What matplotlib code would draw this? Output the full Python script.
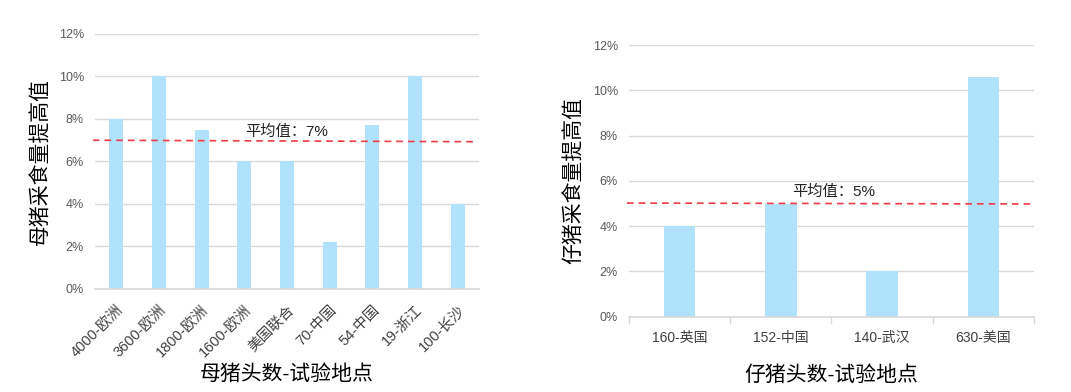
import matplotlib
matplotlib.use("Agg")
import matplotlib.pyplot as plt
from matplotlib.ticker import FuncFormatter

plt.rcParams['font.family'] = ['Liberation Sans', 'Noto Sans CJK SC', 'DejaVu Sans']

sow_labels = ["4000-欧洲", "3600-欧洲", "1800-欧洲", "1600-欧洲", "美国联合",
              "70-中国", "54-中国", "19-浙江", "100-长沙"]
sow_values = [8, 10, 7.5, 6, 6, 2.2, 7.7, 10, 4]
sow_mean = 7

piglet_labels = ["160-英国", "152-中国", "140-武汉", "630-美国"]
piglet_values = [4, 5, 2, 10.6]
piglet_mean = 5

bar_color = '#B1E2FB'
grid_color = '#D9D9D9'
tick_color = '#595959'
mean_color = '#EE3B45'

fig = plt.figure(figsize=(10.71, 3.92), dpi=100)
ax1 = fig.add_axes([0.0887, 0.2628, 0.3585, 0.6505])
ax2 = fig.add_axes([0.5873, 0.1921, 0.378, 0.693])

pct = FuncFormatter(lambda v, p: f"{v:.0f}%")

def style(ax, n):
    ax.set_ylim(0, 12)
    ax.set_yticks(range(0, 13, 2))
    ax.yaxis.set_major_formatter(pct)
    ax.set_xlim(-0.5, n - 0.5)
    ax.grid(axis='y', color=grid_color, linewidth=1)
    ax.set_axisbelow(True)
    for s in ['top', 'right', 'left']:
        ax.spines[s].set_visible(False)
    ax.spines['bottom'].set_color(grid_color)
    ax.spines['bottom'].set_linewidth(1.2)
    ax.tick_params(axis='y', length=0, labelsize=9, labelcolor=tick_color, pad=8)

# Left chart
x1 = range(len(sow_labels))
ax1.bar(x1, sow_values, width=0.33, color=bar_color, zorder=2)
style(ax1, len(sow_labels))
ax1.set_xticks(list(x1))
ax1.set_xticklabels(sow_labels, rotation=45, ha='right', rotation_mode='anchor',
                    fontsize=10.5, color='#404040')
ax1.tick_params(axis='x', length=0, pad=10)
ax1.plot([-0.55, len(sow_labels) - 0.55], [sow_mean, sow_mean - 0.07], ls=(0, (4, 3)),
         color=mean_color, lw=1.2, zorder=3, clip_on=False)
ax1.text(4.0, sow_mean + 0.4, "平均值：7%", fontsize=11, ha='center', va='center', color='#222222')
ax1.set_ylabel("母猪采食量提高值", fontsize=15, labelpad=6)
ax1.set_xlabel("母猪头数-试验地点", fontsize=15, labelpad=3)

# Right chart
x2 = range(len(piglet_labels))
ax2.bar(x2, piglet_values, width=0.31, color=bar_color, zorder=2)
style(ax2, len(piglet_labels))
ax2.set_xticks([i - 0.5 for i in range(len(piglet_labels) + 1)], minor=False)
ax2.set_xticklabels([])
ax2.set_xticks(list(x2), minor=True)
ax2.set_xticklabels(piglet_labels, minor=True, fontsize=10, color='#404040')
ax2.tick_params(axis='x', which='major', length=5, color=grid_color, width=1)
ax2.tick_params(axis='x', which='minor', length=0, pad=10)
ax2.plot([-0.52, len(piglet_labels) - 0.53], [piglet_mean + 0.02, piglet_mean - 0.02],
         ls=(0, (4, 3)), color=mean_color, lw=1.2, zorder=3, clip_on=False)
ax2.text(1.52, piglet_mean + 0.52, "平均值：5%", fontsize=11, ha='center', va='center', color='#222222')
ax2.set_ylabel("仔猪采食量提高值", fontsize=15, labelpad=6)
ax2.set_xlabel("仔猪头数-试验地点", fontsize=15, labelpad=15)

fig.savefig("out.png", dpi=100)
